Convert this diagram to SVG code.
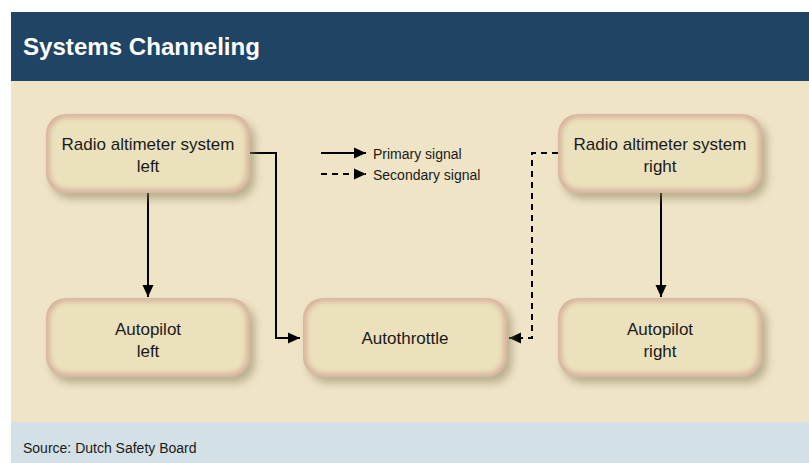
<svg xmlns="http://www.w3.org/2000/svg" width="809" height="463" viewBox="0 0 809 463">
  <style>
    .title { font-family: "Liberation Sans", Arial, sans-serif; font-weight: bold; font-size: 24px; fill: #ffffff; }
    .label { font-family: "Liberation Sans", Arial, sans-serif; font-size: 17px; fill: #1a1a1a; text-anchor: middle; }
    .legend { font-family: "Liberation Sans", Arial, sans-serif; font-size: 14px; fill: #1a1a1a; }
    .source { font-family: "Liberation Sans", Arial, sans-serif; font-size: 14px; fill: #1a1a1a; }
    .wire { fill: none; stroke: #000; stroke-width: 2; }
    .dash { stroke-dasharray: 6 5; }
    .shadow { fill: #8c8360; opacity: 0.55; filter: url(#soft); }
    .rim { fill: #d7b59e; }
    .face { fill: #ebe1bc; filter: url(#glow); }
  </style>
  <defs>
    <filter id="soft" x="-20%" y="-20%" width="140%" height="140%">
      <feGaussianBlur stdDeviation="4"/>
    </filter>
    <filter id="glow" x="-10%" y="-10%" width="120%" height="120%">
      <feGaussianBlur stdDeviation="2.5"/>
    </filter>
    <marker id="arrow" viewBox="0 0 12 12" refX="12" refY="6" markerWidth="12" markerHeight="12" markerUnits="userSpaceOnUse" orient="auto">
      <path d="M0,0.5 L12,6 L0,11.5 Z" fill="#000"/>
    </marker>
    <!-- shared rounded box: shadow, rim and soft face -->
    <g id="box">
      <rect class="shadow" x="5" y="6" width="204" height="79" rx="20"/>
      <rect class="rim" x="0" y="0" width="204" height="79" rx="20"/>
      <rect class="face" x="4" y="4" width="196" height="71" rx="17"/>
    </g>
  </defs>

  <rect width="809" height="463" fill="#ffffff"/>
  <rect x="11" y="12" width="798" height="69" fill="#1f4464"/>
  <rect x="11" y="81" width="798" height="341" fill="#efe4c6"/>
  <rect x="11" y="422" width="798" height="41" fill="#d3e0e5"/>
  <text class="title" x="23" y="55" textLength="237" lengthAdjust="spacingAndGlyphs">Systems Channeling</text>

  <g id="connectors">
    <path class="wire" d="M148,193 V297" marker-end="url(#arrow)"/>
    <path class="wire" d="M661,193 V297" marker-end="url(#arrow)"/>
    <path class="wire" d="M250,153 H276 V338 H300" marker-end="url(#arrow)"/>
    <path class="wire dash" d="M558,153 H532 V338 H509" marker-end="url(#arrow)"/>
  </g>

  <g id="legend">
    <path class="wire" d="M321,153 H366" marker-end="url(#arrow)"/>
    <path class="wire dash" d="M321,174 H366" marker-end="url(#arrow)"/>
    <text class="legend" x="373" y="159">Primary signal</text>
    <text class="legend" x="373" y="180">Secondary signal</text>
  </g>

  <g id="radio-left">
    <use href="#box" x="46" y="114"/>
    <text class="label" x="148" y="150">Radio altimeter system</text>
    <text class="label" x="148" y="172">left</text>
  </g>
  <g id="radio-right">
    <use href="#box" x="558" y="114"/>
    <text class="label" x="660" y="150">Radio altimeter system</text>
    <text class="label" x="660" y="172">right</text>
  </g>
  <g id="autopilot-left">
    <use href="#box" x="46" y="298"/>
    <text class="label" x="148" y="335">Autopilot</text>
    <text class="label" x="148" y="357">left</text>
  </g>
  <g id="autothrottle">
    <use href="#box" x="303" y="298"/>
    <text class="label" x="405" y="344">Autothrottle</text>
  </g>
  <g id="autopilot-right">
    <use href="#box" x="558" y="298"/>
    <text class="label" x="660" y="335">Autopilot</text>
    <text class="label" x="660" y="357">right</text>
  </g>

  <text class="source" x="23" y="453">Source: Dutch Safety Board</text>
</svg>
